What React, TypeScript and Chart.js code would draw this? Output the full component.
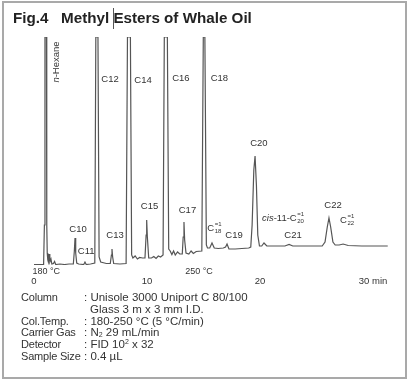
import React, { useEffect, useRef } from "react";
import { Chart, registerables } from "chart.js";

Chart.register(...registerables);

// Retention time (min) and detector signal (arbitrary units)
const timeMin: number[] = [
  0.0, 0.85, 0.92, 0.97, 1.1, 1.13, 1.17, 1.22, 1.27, 1.33, 1.4, 1.5, 1.58, 1.72, 1.82, 1.92,
  2.3, 2.7, 3.1, 3.48, 3.57, 3.63, 3.69, 3.78, 3.95, 4.4, 4.51, 4.62, 5.0,
  5.38, 5.47, 5.66, 5.76, 5.9, 6.4, 6.75, 6.85, 6.9, 6.96, 7.05, 7.6,
  8.15, 8.27, 8.53, 8.64, 8.75, 8.95, 9.15, 9.35, 9.6, 9.82, 9.92, 9.97, 10.03, 10.15,
  10.4, 10.6, 10.8, 11.0, 11.2, 11.42, 11.53, 11.8, 11.92, 12.05, 12.2, 12.35, 12.5, 12.7, 12.9,
  13.12, 13.2, 13.27, 13.33, 13.45, 13.7, 13.9, 14.1, 14.35, 14.85, 14.98, 15.12, 15.25, 15.35,
  15.55, 15.75, 15.95, 16.3, 16.75, 16.95, 17.08, 17.25, 17.8, 18.4, 19.0, 19.18, 19.3, 19.45,
  19.56, 19.68, 19.8, 19.95, 20.15, 20.35, 20.6, 21.2, 22.2, 22.57, 22.9, 24.0, 25.5, 25.75,
  25.95, 26.1, 26.25, 26.45, 26.65, 27.0, 27.35, 27.8, 29.0, 31.3,
];
const signal: number[] = [
  0.5, 0.5, 40, 228, 228, 40, 12, 5, 3, 11, 3, 6, 1, 1.5, 3.5, 0.5,
  1, 0.5, 1, 1, 14, 27, 12, 2, 1, 0.5, 3, 0.5, 1,
  2, 228, 228, 8, 3, 1.5, 1.5, 10, 16, 8, 1.5, 1,
  1.5, 228, 228, 10, 7, 9, 6, 7.5, 7, 7, 30, 45, 28, 7,
  7, 8.5, 6.5, 9, 8, 10, 228, 228, 16, 14, 10.5, 14, 10, 13, 11,
  11, 28, 43, 25, 12, 11, 14, 11.5, 13.5, 14, 228, 228, 20, 17,
  17, 22, 17, 16.5, 17, 18, 21, 16, 16, 16.5, 17, 18, 40, 95,
  109, 80, 30, 19, 19, 22, 19, 19, 19, 20.5, 19, 19, 19, 23,
  38, 47, 38, 23, 20, 20, 21, 19.5, 19, 19,
];

const xTickValues: number[] = [0, 10, 20, 30];
const xTickLabels: string[] = ["0", "10", "20", "30 min"];

const peakNames: string[] = [
  "n-Hexane", "C10", "C11", "C12", "C13", "C14", "C15", "C16", "C17", "C18",
  "C18=1", "C19", "C20", "cis-11-C20=1", "C21", "C22", "C22=1",
];
const peakLabelTime: number[] = [
  1.95, 3.9, 4.62, 6.73, 7.17, 9.65, 10.22, 13.0, 13.58, 16.4,
  15.95, 17.7, 19.9, 20.18, 22.92, 26.46, 27.7,
];
const peakLabelSignal: number[] = [
  203, 36, 14, 186, 30, 185, 59, 187, 55, 187,
  37, 30, 122, 47, 30, 59.5, 45,
];

const tempLabels: string[] = ["180 °C", "250 °C"];
const tempLabelTime: number[] = [0, 14.6];

const FONT = "Arial, 'Liberation Sans', Helvetica, sans-serif";
const TEXT = "#333";
const LABEL_PX = 9.5;

function drawStacked(ctx: CanvasRenderingContext2D, x: number, y: number, sub: string, sup: string) {
  ctx.save();
  ctx.font = `6px ${FONT}`;
  ctx.textAlign = "left";
  ctx.textBaseline = "middle";
  ctx.fillText(sup, x, y - 3.5);
  ctx.fillText(sub, x, y + 3);
  ctx.restore();
}

const labelPlugin = {
  id: "peakLabels",
  afterDatasetsDraw(chart: any) {
    const ctx: CanvasRenderingContext2D = chart.ctx;
    const xs = chart.scales.x;
    const ys = chart.scales.y;
    ctx.save();
    ctx.fillStyle = TEXT;
    ctx.textBaseline = "middle";
    const reg = `${LABEL_PX}px ${FONT}`;
    const ital = `italic ${LABEL_PX}px ${FONT}`;
    peakNames.forEach((name, i) => {
      const px = xs.getPixelForValue(peakLabelTime[i]);
      const py = ys.getPixelForValue(peakLabelSignal[i]);
      ctx.font = reg;
      if (name === "n-Hexane") {
        ctx.save();
        ctx.translate(px, py);
        ctx.rotate(-Math.PI / 2);
        ctx.font = ital;
        const wn = ctx.measureText("n").width;
        ctx.font = reg;
        const wr = ctx.measureText("-Hexane").width;
        const start = -(wn + wr) / 2;
        ctx.textAlign = "left";
        ctx.font = ital;
        ctx.fillText("n", start, 0);
        ctx.font = reg;
        ctx.fillText("-Hexane", start + wn, 0);
        ctx.restore();
      } else if (name.startsWith("cis")) {
        ctx.textAlign = "left";
        ctx.font = ital;
        ctx.fillText("cis", px, py);
        const w1 = ctx.measureText("cis").width;
        ctx.font = reg;
        ctx.fillText("-11-C", px + w1, py);
        const w2 = ctx.measureText("-11-C").width;
        drawStacked(ctx, px + w1 + w2 + 0.5, py, "20", "=1");
      } else if (name.includes("=")) {
        const [base, sup] = name.split("=");
        const sub = base.slice(1);
        const wc = ctx.measureText("C").width;
        const total = wc + 7;
        ctx.textAlign = "left";
        ctx.fillText("C", px - total / 2, py);
        drawStacked(ctx, px - total / 2 + wc + 0.5, py, sub, "=" + sup);
      } else {
        ctx.textAlign = "center";
        ctx.fillText(name, px, py);
      }
    });
    ctx.font = `9px ${FONT}`;
    tempLabels.forEach((t, i) => {
      const px = xs.getPixelForValue(tempLabelTime[i]);
      const py = chart.chartArea.bottom + 7;
      ctx.textAlign = i === 0 ? "left" : "center";
      ctx.fillText(t, i === 0 ? px - 1.5 : px, py);
    });
    ctx.restore();
  },
};

export default function App() {
  const canvasRef = useRef<HTMLCanvasElement | null>(null);

  useEffect(() => {
    if (!canvasRef.current) return;
    const data = timeMin.map((t, i) => ({ x: t, y: signal[i] }));
    const chart = new Chart(canvasRef.current, {
      type: "line",
      data: {
        datasets: [
          {
            data,
            borderColor: "#555",
            borderWidth: 1.2,
            pointRadius: 0,
            tension: 0,
            fill: false,
          },
        ],
      },
      options: {
        responsive: false,
        animation: false,
        events: [],
        layout: { padding: { left: 34, right: 20, top: 37, bottom: 0 } },
        plugins: { legend: { display: false }, tooltip: { enabled: false }, title: { display: false } },
        scales: {
          x: {
            type: "linear",
            min: 0,
            max: 31.5,
            grid: { display: false, drawTicks: false },
            border: { display: false },
            afterBuildTicks: (scale: any) => {
              scale.ticks = xTickValues.map((v) => ({ value: v }));
            },
            afterFit: (scale: any) => {
              scale.height = 117;
            },
            ticks: {
              padding: 11,
              color: TEXT,
              font: { family: FONT, size: 9.5 },
              maxRotation: 0,
              autoSkip: false,
              callback: (value: any) => {
                const idx = xTickValues.indexOf(Number(value));
                return idx >= 0 ? xTickLabels[idx] : "";
              },
            },
          },
          y: {
            type: "linear",
            display: false,
            min: 0,
            max: 228,
          },
        },
      },
      plugins: [labelPlugin],
    });
    return () => chart.destroy();
  }, []);

  const rowLabels = ["Column", "", "Col.Temp.", "Carrier Gas", "Detector", "Sample Size"];
  const rowValues: React.ReactNode[] = [
    ": Unisole 3000 Uniport C 80/100",
    <span style={{ paddingLeft: 6 }}>Glass 3 m x 3 mm I.D.</span>,
    ": 180-250 °C (5 °C/min)",
    <span>
      : N<span style={{ fontSize: 7, position: "relative", top: 1 }}>2</span> 29 mL/min
    </span>,
    <span>
      : FID 10<span style={{ fontSize: 7, position: "relative", top: -4 }}>2</span> x 32
    </span>,
    ": 0.4 µL",
  ];

  const rowStyle = (left: number, i: number, size: number): React.CSSProperties => ({
    position: "absolute",
    left,
    top: 291 + i * 11.8,
    fontSize: size,
    lineHeight: "12px",
    height: 12,
    whiteSpace: "pre",
  });

  return (
    <div
      style={{
        position: "absolute",
        left: 0,
        top: 0,
        width: 410,
        height: 382,
        background: "#fff",
        fontFamily: FONT,
        color: TEXT,
      }}
    >
      <div
        style={{
          position: "absolute",
          left: 2,
          top: 1,
          width: 405,
          height: 378,
          border: "2px solid #a9a9a9",
          boxSizing: "border-box",
        }}
      />
      <canvas ref={canvasRef} width={410} height={382} style={{ position: "absolute", left: 0, top: 0 }} />
      <div
        style={{
          position: "absolute",
          left: 13,
          top: 9,
          fontSize: 15.2,
          fontWeight: 700,
          lineHeight: "18px",
          color: "#222",
          whiteSpace: "pre",
        }}
      >
        {"Fig.4   Methyl Esters of Whale Oil"}
      </div>
      <div style={{ position: "absolute", left: 113, top: 8, width: 1, height: 21, background: "#555" }} />
      {rowLabels.map((lab, i) => (
        <React.Fragment key={i}>
          <div style={{ ...rowStyle(21, i, 11), letterSpacing: "-0.2px" }}>{lab}</div>
          <div style={rowStyle(84, i, 11.5)}>{rowValues[i]}</div>
        </React.Fragment>
      ))}
    </div>
  );
}
